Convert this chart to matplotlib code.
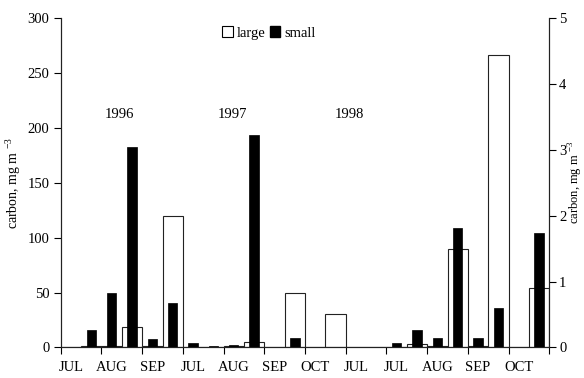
import matplotlib

matplotlib.use('agg')

import matplotlib.pyplot as plt
import numpy as np
from matplotlib.patches import Patch

plt.rcParams['font.family'] = ['Liberation Serif', 'DejaVu Serif']
plt.rcParams['mathtext.fontset'] = 'custom'
plt.rcParams['mathtext.rm'] = 'Liberation Serif'
plt.rcParams['font.size'] = 10.5

# one category per sampling, labels only on every second one
month_labels = ['JUL', 'AUG', 'SEP', 'JUL', 'AUG', 'SEP',
                'OCT', 'JUL', 'JUL', 'AUG', 'SEP', 'OCT']
# large fraction, left axis (mg m-3)
large = [0, 1, 1, 19, 1.5, 120, 0, 0, 1, 5, 0, 50,
         0, 30, 0, 0, 0, 3.5, 1, 90, 1, 267, 0, 54]
# small fraction, right axis (mg m-3)
small = [0, 0.27, 0.83, 3.04, 0.12, 0.67, 0.06, 0.02, 0.04, 3.23, 0, 0.14,
         0, 0.01, 0.01, 0.01, 0.06, 0.26, 0.14, 1.82, 0.15, 0.60, 0, 1.74]
years = ['1996', '1997', '1998']
year_x = [2.9, 8.45, 14.2]

n = len(large)
x = np.arange(n) + 0.5

fig = plt.figure(figsize=(5.84, 3.78), dpi=100)
ax = fig.add_axes([0.104, 0.081, 0.8366, 0.8705])
ax2 = ax.twinx()

ax.bar(x, large, width=1.0, facecolor='white', edgecolor='#222222', linewidth=0.8)
ax2.bar(x, small, width=0.46, color='black', edgecolor='black', linewidth=0.5)

ax.set_xlim(0, n)
ax.set_ylim(0, 300)
ax2.set_ylim(0, 5)
ax.set_yticks(np.arange(0, 301, 50))
ax2.set_yticks(np.arange(0, 6, 1))

ax.set_xticks(np.arange(0, n + 1, 2))
ax.set_xticklabels([])
ax.set_xticks(np.arange(0, n, 2) + 0.5, minor=True)
ax.set_xticklabels(month_labels, minor=True)
ax.tick_params(axis='x', which='major', direction='out', length=5, width=0.8)
ax.tick_params(axis='x', which='minor', length=0, pad=10)
ax.tick_params(axis='y', direction='out', length=5, width=0.8, pad=3)
ax2.tick_params(axis='y', direction='out', length=5, width=0.8, pad=2)

for a in (ax, ax2):
    a.spines['top'].set_visible(False)
    for s in ('left', 'right', 'bottom'):
        a.spines[s].set_linewidth(0.8)
        a.spines[s].set_color('#222222')

ax.set_ylabel('carbon, mg m $^{-3}$', fontsize=10, labelpad=3)
ax2.set_ylabel('carbon, mg m $^{-3}$', fontsize=9, labelpad=0.5)

for yr, xx in zip(years, year_x):
    ax.text(xx, 212, yr, ha='center', va='center')

handles = [Patch(facecolor='white', edgecolor='black', linewidth=0.8),
           Patch(facecolor='black', edgecolor='black')]
fig.legend(handles, ['large', 'small'], loc='center', bbox_to_anchor=(0.46, 0.913),
           ncol=2, frameon=False, handlelength=0.75, handleheight=0.75,
           handletextpad=0.25, columnspacing=0.3, fontsize=10.5)

fig.savefig('out.png', dpi=100)
